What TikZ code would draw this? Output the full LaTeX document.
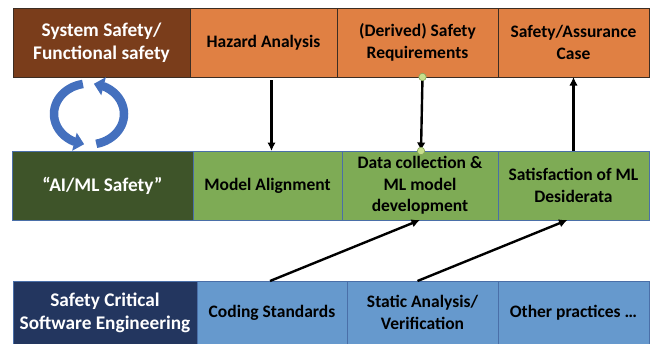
\documentclass[tikz,border=0pt]{standalone}
\usepackage{fontspec}
\setmainfont{Carlito}
\usetikzlibrary{arrows.meta,bending,calc}
\definecolor{brownc}{HTML}{7A3D1B}
\definecolor{orangec}{HTML}{E08043}
\definecolor{dgreen}{HTML}{3E5429}
\definecolor{lgreen}{HTML}{7EAB55}
\definecolor{dblue}{HTML}{23365F}
\definecolor{lblue}{HTML}{6699CD}
\definecolor{toprule}{HTML}{3C2D23}
\definecolor{midrule}{HTML}{4A6FA8}
\definecolor{cycblue}{HTML}{4470BE}
\definecolor{cycdark}{HTML}{2F559A}
\definecolor{dotfill}{HTML}{C8E08C}
\definecolor{dotline}{HTML}{86A55A}
\begin{document}
\begin{tikzpicture}[x=1pt,y=-1pt,
  cell/.style={rectangle, inner sep=0pt, outer sep=0pt, anchor=north west,
    align=center, font=\bfseries\fontsize{17.5}{21.5}\selectfont, line width=0.8pt},
  headcell/.style={text=white, font=\bfseries\fontsize{19.3}{23}\selectfont},
  toprow/.style={cell, draw=toprule, minimum height=69pt},
  midrow/.style={cell, draw=midrule, minimum height=69pt},
  botrow/.style={cell, draw=midrule, minimum height=63pt},
  flow/.style={line width=2.4pt, -{Latex[length=8.5pt,width=8.5pt]}},
  cyc/.style={line width=8.5pt, draw=cycblue, -{Triangle[length=10pt,width=18pt,flex]}},
  jdot/.style={circle, fill=dotfill, draw=dotline, line width=0.6pt, inner sep=0pt, minimum size=7.5pt}
]
\useasboundingbox (0,0) rectangle (651,343);

% top row: system safety
\node[toprow, fill=brownc, headcell, minimum width=177pt] (sys) at (13,8) {System Safety/\\Functional safety};
\node[toprow, fill=orangec, minimum width=147pt] (haz) at (190,8) {Hazard Analysis};
\node[toprow, fill=orangec, minimum width=161pt] (req) at (337,8) {(Derived) Safety\\Requirements};
\node[toprow, fill=orangec, minimum width=151pt] (case) at (498,8) {Safety/Assurance\\Case};

% middle row: AI/ML safety
\node[midrow, fill=dgreen, headcell, minimum width=181pt] (aiml) at (12,151) {“AI/ML Safety”};
\node[midrow, fill=lgreen, minimum width=149pt] (align) at (193,151) {Model Alignment};
\node[midrow, fill=lgreen, minimum width=156pt] (data) at (342,151) {Data collection \&\\ML model\\development};
\node[midrow, fill=lgreen, minimum width=151pt] (sat) at (498,151) {Satisfaction of ML\\Desiderata};

% bottom row: software engineering
\node[botrow, fill=dblue, headcell, minimum width=184pt] (swe) at (13,281) {Safety Critical\\Software Engineering};
\node[botrow, fill=lblue, minimum width=150pt] (coding) at (197,281) {Coding Standards};
\node[botrow, fill=lblue, minimum width=151pt] (static) at (347,281) {Static Analysis/\\Verification};
\node[botrow, fill=lblue, minimum width=151pt] (other) at (498,281) {Other practices …};

% cycle between the two safety communities
\begin{scope}[shift={(89,114)}, y=1pt]
  \draw[cyc] (100:35 and 30.5) arc[start angle=100, end angle=262, x radius=35, y radius=30.5];
  \draw[cyc] (-78:35 and 30.5) arc[start angle=-78, end angle=82, x radius=35, y radius=30.5];
\end{scope}

% vertical links
\draw[flow, shorten <=3pt] ([xshift=8pt]haz.south) -- ([xshift=8pt]haz.south |- align.north);
\coordinate (rq) at ([xshift=5pt]req.south);
\coordinate (dv) at ([xshift=1pt]data.north);
\draw[flow] (rq) -- (dv);
\node[jdot] (rqdot) at (rq) {};
\node[jdot] (dvdot) at (dv) {};
\draw[flow] (sat.north) -- (case.south);

% diagonal links from software practices
\draw[flow] ([xshift=-2pt]coding.north) -- (data.south);
\draw[flow] ([xshift=-5pt]static.north) -- ([xshift=-6pt]sat.south);
\end{tikzpicture}
\end{document}
